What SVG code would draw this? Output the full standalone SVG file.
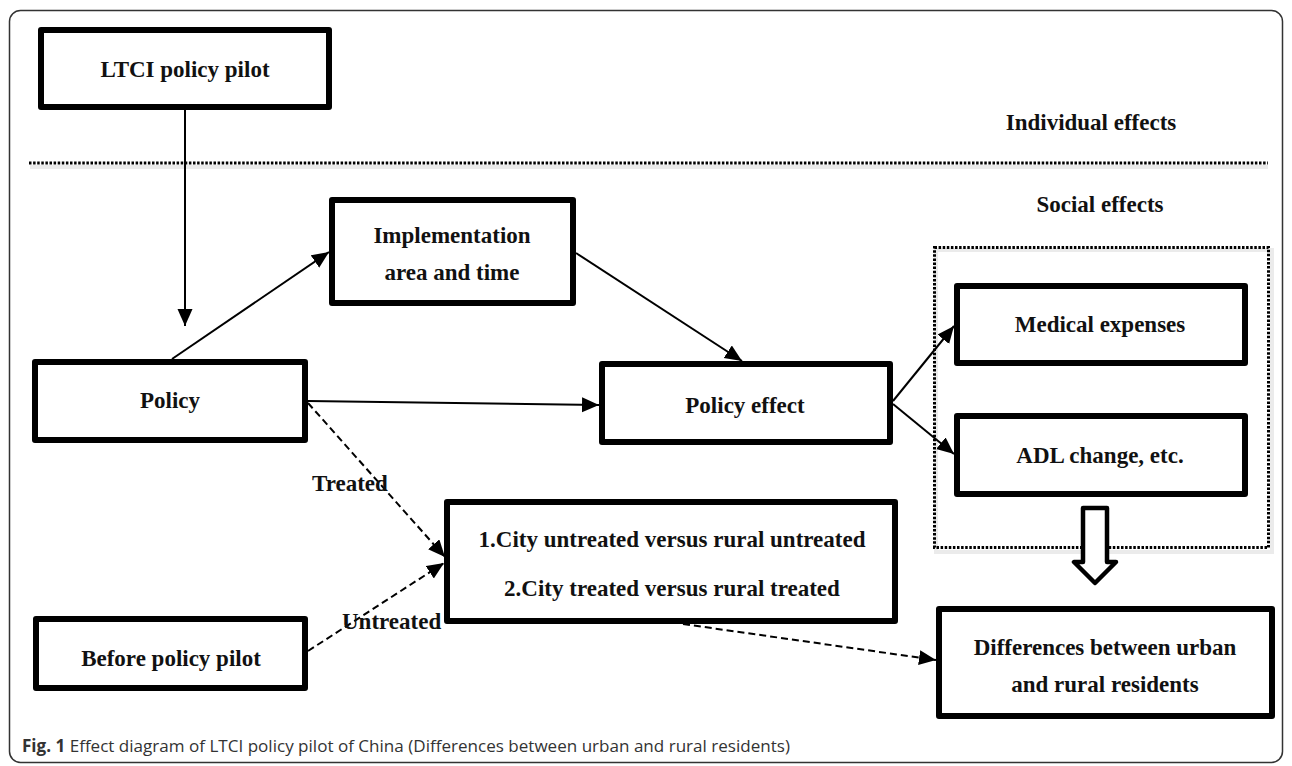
<svg xmlns="http://www.w3.org/2000/svg" width="1292" height="766" viewBox="0 0 1292 766">
<style>
.box{fill:#fff;stroke:#000;stroke-width:6;stroke-linejoin:round}
.t{font-family:"Liberation Serif","Times New Roman",serif;font-weight:bold;font-size:23px;fill:#111;text-anchor:middle}
.lbl{font-family:"Liberation Serif","Times New Roman",serif;font-weight:bold;font-size:23px;fill:#111}
.ln{fill:none;stroke:#000;stroke-width:2}
.dash{fill:none;stroke:#000;stroke-width:2;stroke-dasharray:7 4}
.dot{fill:none;stroke:#000;stroke-width:3;stroke-dasharray:2.5 1.6}
.shadow{fill:none;stroke:#000;stroke-opacity:0.08;stroke-width:4}
.cap{font-family:"Open Sans","Liberation Sans",sans-serif;font-size:17px;fill:#333}
</style>
<defs>
<marker id="ah" markerUnits="userSpaceOnUse" markerWidth="18" markerHeight="16" refX="17" refY="7.5" orient="auto">
<path d="M0,0 L17,7.5 L0,15 z" fill="#000"/>
</marker>
</defs>
<rect x="9.5" y="10.5" width="1273" height="752" rx="11" fill="#fff" stroke="#333" stroke-width="1.5"/>
<g id="dividers">
<line class="shadow" x1="30" y1="167" x2="1268" y2="167"/>
<line class="dot" x1="29" y1="163" x2="1268" y2="163"/>
<rect class="shadow" x="936" y="250" width="336" height="302"/>
<rect class="dot" x="934.5" y="247.5" width="334" height="300"/>
</g>
<g id="section-labels">
<text class="t" x="1091" y="130">Individual effects</text>
<text class="t" x="1100" y="212">Social effects</text>
</g>
<g id="connectors">
<line class="ln" x1="185" y1="110" x2="185" y2="326" marker-end="url(#ah)"/>
<line class="ln" x1="172" y1="359" x2="329" y2="252" marker-end="url(#ah)"/>
<line class="ln" x1="576" y1="253" x2="742" y2="361" marker-end="url(#ah)"/>
<line class="ln" x1="308" y1="401" x2="599" y2="405" marker-end="url(#ah)"/>
<line class="ln" x1="893" y1="401" x2="954" y2="326" marker-end="url(#ah)"/>
<line class="ln" x1="893" y1="404" x2="954" y2="454" marker-end="url(#ah)"/>
<line class="dash" x1="308" y1="403" x2="445" y2="557" marker-end="url(#ah)"/>
<line class="dash" x1="308" y1="651" x2="444" y2="563" marker-end="url(#ah)"/>
<line class="dash" x1="683" y1="624" x2="936" y2="660" marker-end="url(#ah)"/>
<polygon points="1083,508 1107,508 1107,562 1116,562 1095,583 1074,562 1083,562" fill="#fff" stroke="#000" stroke-width="4.5" stroke-linejoin="round"/>
<text class="lbl" x="312" y="491">Treated</text>
<text class="lbl" x="342" y="629">Untreated</text>
</g>
<g id="ltci">
<rect class="box" x="41" y="30" width="288" height="77"/>
<text class="t" x="185" y="77">LTCI policy pilot</text>
</g>
<g id="implementation">
<rect class="box" x="332" y="200" width="241" height="103"/>
<text class="t" x="452" y="243">Implementation</text>
<text class="t" x="452" y="280">area and time</text>
</g>
<g id="policy">
<rect class="box" x="35" y="362" width="270" height="78"/>
<text class="t" x="170" y="408">Policy</text>
</g>
<g id="policy-effect">
<rect class="box" x="602" y="364" width="288" height="78"/>
<text class="t" x="745" y="413">Policy effect</text>
</g>
<g id="medical">
<rect class="box" x="957" y="286" width="288" height="77"/>
<text class="t" x="1100" y="332">Medical expenses</text>
</g>
<g id="adl">
<rect class="box" x="957" y="416" width="288" height="78"/>
<text class="t" x="1100" y="463">ADL change, etc.</text>
</g>
<g id="city">
<rect class="box" x="447" y="502" width="448" height="119"/>
<text class="t" x="672" y="547">1.City untreated versus rural untreated</text>
<text class="t" x="672" y="596">2.City treated versus rural treated</text>
</g>
<g id="before">
<rect class="box" x="36" y="619" width="269" height="69"/>
<text class="t" x="171" y="666">Before policy pilot</text>
</g>
<g id="differences">
<rect class="box" x="939" y="609" width="333" height="107"/>
<text class="t" x="1105" y="655">Differences between urban</text>
<text class="t" x="1105" y="692">and rural residents</text>
</g>
<g id="caption">
<text class="cap" x="22" y="752" textLength="768" lengthAdjust="spacingAndGlyphs"><tspan font-weight="bold">Fig. 1</tspan> Effect diagram of LTCI policy pilot of China (Differences between urban and rural residents)</text>
</g>
</svg>
